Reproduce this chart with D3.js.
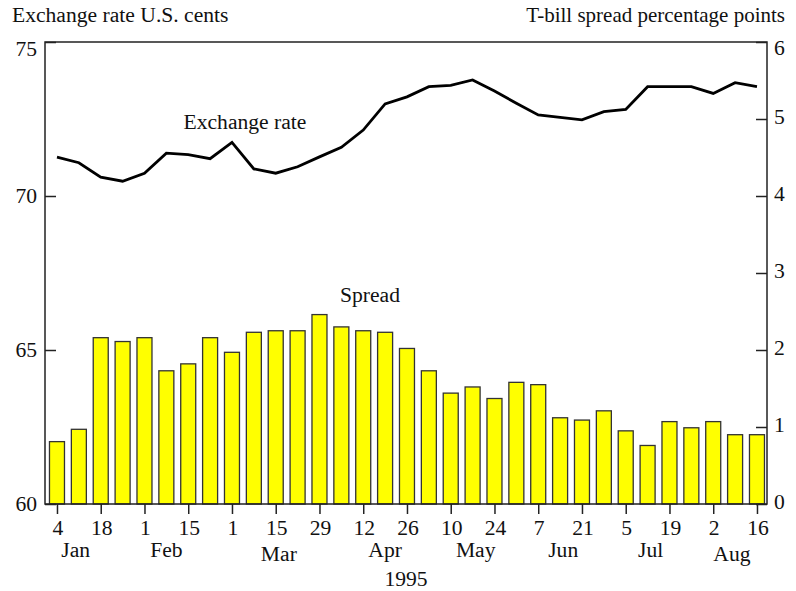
<!DOCTYPE html>
<html>
<head>
<meta charset="utf-8">
<script src="https://cdn.jsdelivr.net/npm/d3@7"></script>
<style>
  body { margin: 0; background: #fff; }
  text { font-family: "Liberation Serif", "Times New Roman", serif; fill: #111; }
</style>
</head>
<body>
<svg id="chart" width="796" height="591"></svg>
<script>
// weekly observations, 1995
var weeks = ["1995-01-04","1995-01-11","1995-01-18","1995-01-25","1995-02-01","1995-02-08","1995-02-15","1995-02-22",
  "1995-03-01","1995-03-08","1995-03-15","1995-03-22","1995-03-29","1995-04-05","1995-04-12","1995-04-19","1995-04-26",
  "1995-05-03","1995-05-10","1995-05-17","1995-05-24","1995-05-31","1995-06-07","1995-06-14","1995-06-21","1995-06-28",
  "1995-07-05","1995-07-12","1995-07-19","1995-07-26","1995-08-02","1995-08-09","1995-08-16"];

// exchange rate, U.S. cents (left axis)
var exchangeRate = [71.26,71.08,70.61,70.48,70.74,71.39,71.34,71.21,71.74,70.88,70.74,70.95,71.27,71.58,72.14,72.99,73.22,
  73.55,73.59,73.77,73.41,73.01,72.63,72.55,72.47,72.74,72.81,73.55,73.55,73.55,73.33,73.68,73.55];

// T-bill spread, percentage points (right axis)
var spread = [0.81,0.97,2.16,2.11,2.16,1.73,1.82,2.16,1.97,2.23,2.25,2.25,2.46,2.30,2.25,2.23,2.02,
  1.73,1.44,1.52,1.37,1.58,1.55,1.12,1.09,1.21,0.95,0.76,1.07,0.99,1.07,0.90,0.90];

var tickWeeks = ["1995-01-04","1995-01-18","1995-02-01","1995-02-15","1995-03-01","1995-03-15","1995-03-29","1995-04-12",
  "1995-04-26","1995-05-10","1995-05-24","1995-06-07","1995-06-21","1995-07-05","1995-07-19","1995-08-02","1995-08-16"];

var monthLabels = ["Jan","Feb","Mar","Apr","May","Jun","Jul","Aug"];
var monthDates = ["1995-01-10","1995-02-08","1995-03-16","1995-04-19","1995-05-18","1995-06-15","1995-07-13","1995-08-08"];

var leftTicks = [60, 65, 70, 75];
var rightTicks = [0, 1, 2, 3, 4, 5, 6];

var parse = d3.timeParse("%Y-%m-%d");
var dates = weeks.map(parse);
var fs = 21.6;

var svg = d3.select("#chart");
var m = {left: 45, right: 767, top: 42, bottom: 504};

var x = d3.scaleTime()
  .domain([d3.timeHour.offset(dates[0], -92), d3.timeHour.offset(dates[dates.length-1], 77)])
  .range([m.left, m.right]);
var yL = d3.scaleLinear().domain([60, 75]).range([m.bottom, m.top]);
var yR = d3.scaleLinear().domain([0, 6]).range([m.bottom, m.top]);

var barW = 15;

// bars - spread
svg.append("g").selectAll("rect")
  .data(spread)
  .join("rect")
  .attr("x", function(d,i){ return x(dates[i]) - barW/2; })
  .attr("y", function(d){ return yR(d); })
  .attr("width", barW)
  .attr("height", function(d){ return m.bottom - yR(d); })
  .attr("fill", "#ffff00")
  .attr("stroke", "#333")
  .attr("stroke-width", 1.3);

// line - exchange rate
var line = d3.line()
  .x(function(d,i){ return x(dates[i]); })
  .y(function(d){ return yL(d); });

svg.append("path")
  .datum(exchangeRate)
  .attr("d", line)
  .attr("fill", "none")
  .attr("stroke", "#000")
  .attr("stroke-width", 2.8)
  .attr("stroke-linejoin", "miter");

// frame
svg.append("rect")
  .attr("x", m.left).attr("y", m.top)
  .attr("width", m.right - m.left).attr("height", m.bottom - m.top)
  .attr("fill", "none").attr("stroke", "#222").attr("stroke-width", 1.5);

// left axis (ticks inside)
var axL = svg.append("g").attr("transform", "translate(" + m.left + ",0)")
  .call(d3.axisRight(yL).tickValues(leftTicks).tickSize(11).tickFormat(""));
axL.select(".domain").remove();
axL.selectAll("line").attr("stroke", "#222").attr("stroke-width", 1.5);

svg.append("g").selectAll("text")
  .data(leftTicks)
  .join("text")
  .attr("x", 37)
  .attr("y", function(d){ return yL(d) + (d == 75 ? 14 : 7); })
  .attr("text-anchor", "end")
  .attr("font-size", fs)
  .text(function(d){ return d; });

// right axis (ticks inside)
var axR = svg.append("g").attr("transform", "translate(" + m.right + ",0)")
  .call(d3.axisLeft(yR).tickValues(rightTicks).tickSize(11).tickFormat(""));
axR.select(".domain").remove();
axR.selectAll("line").attr("stroke", "#222").attr("stroke-width", 1.5);

svg.append("g").selectAll("text")
  .data(rightTicks)
  .join("text")
  .attr("x", 774)
  .attr("y", function(d){ return yR(d) + (d == 6 ? 13 : 5); })
  .attr("text-anchor", "start")
  .attr("font-size", fs)
  .text(function(d){ return d; });

// bottom axis
var axB = svg.append("g").attr("transform", "translate(0," + m.bottom + ")")
  .call(d3.axisBottom(x).tickValues(tickWeeks.map(parse)).tickSize(10).tickFormat(""));
axB.select(".domain").remove();
axB.selectAll("line").attr("stroke", "#222").attr("stroke-width", 1.5);

svg.append("g").selectAll("text")
  .data(tickWeeks)
  .join("text")
  .attr("x", function(d){ return x(parse(d)) + 1; })
  .attr("y", 535)
  .attr("text-anchor", "middle")
  .attr("font-size", fs)
  .text(function(d){ return +d.slice(8); });

svg.append("g").selectAll("text")
  .data(monthLabels)
  .join("text")
  .attr("x", function(d,i){ return x(parse(monthDates[i])); })
  .attr("y", function(d){ return (d == "Mar" || d == "Aug") ? 561 : 557; })
  .attr("text-anchor", "middle")
  .attr("font-size", fs)
  .text(function(d){ return d; });

svg.append("text")
  .attr("x", 406).attr("y", 586)
  .attr("text-anchor", "middle")
  .attr("font-size", fs)
  .text("1995");

// titles
svg.append("text")
  .attr("x", 12).attr("y", 22)
  .attr("font-size", fs)
  .text("Exchange rate U.S. cents");

svg.append("text")
  .attr("x", 785).attr("y", 22)
  .attr("text-anchor", "end")
  .attr("font-size", 21)
  .text("T-bill spread percentage points");

// series labels
svg.append("text")
  .attr("x", 245).attr("y", 129)
  .attr("text-anchor", "middle")
  .attr("font-size", fs)
  .text("Exchange rate");

svg.append("text")
  .attr("x", 370).attr("y", 302)
  .attr("text-anchor", "middle")
  .attr("font-size", fs)
  .text("Spread");
</script>
</body>
</html>
